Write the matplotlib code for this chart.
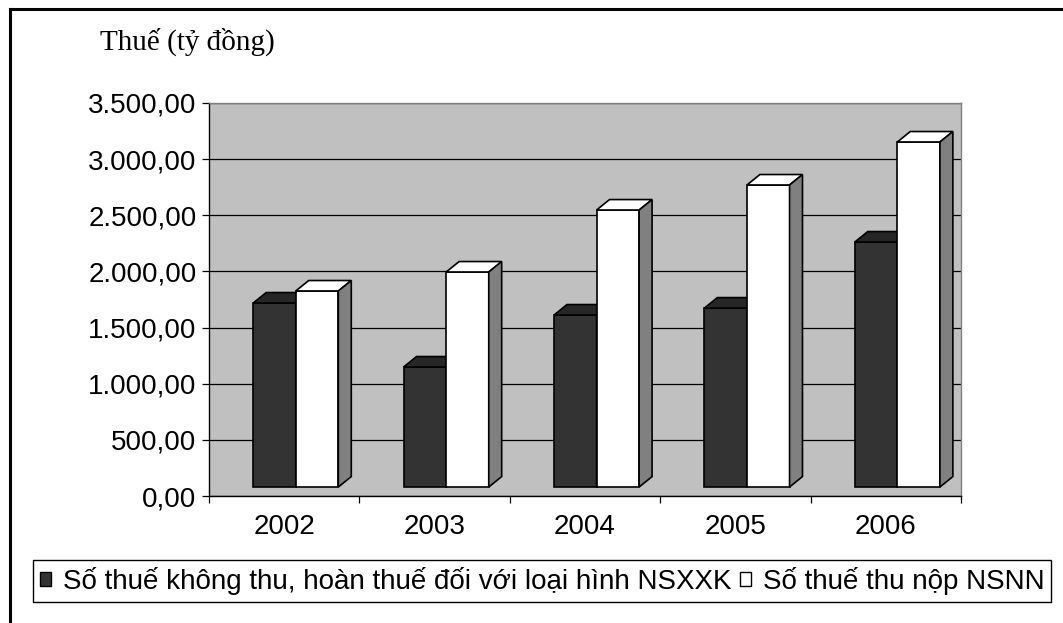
import matplotlib.pyplot as plt
from matplotlib.patches import Polygon, Patch
from matplotlib.lines import Line2D

years = ['2002', '2003', '2004', '2005', '2006']
khong_thu = [1719, 1149, 1612, 1674, 2262]   # So thue khong thu, hoan thue NSXXK
thu_nop = [1826, 1995, 2547, 2770, 3153]     # So thue thu nop NSNN
y_ticks = [0, 500, 1000, 1500, 2000, 2500, 3000, 3500]
labels = ['Số thuế không thu, hoàn thuế đối với loại hình NSXXK',
          'Số thuế thu nộp NSNN']

plt.rcParams['font.family'] = ['Liberation Sans', 'DejaVu Sans']

W, H = 1063, 623
fig = plt.figure(figsize=(W / 100, H / 100), dpi=100)
ax = fig.add_axes([209 / W, 1 - 496 / H, 752 / W, 393 / H])
ax.set_facecolor('#c0c0c0')
ax.set_xlim(-0.5, 4.5)
ax.set_ylim(0, 3500)

# fake 3d look (excel style)
w = 0.283
dx = 0.086
dy = 93
floor = 80


def faces(x0, v, top, side, z):
    x1 = x0 + w
    ax.add_patch(Polygon([(x0, v), (x1, v), (x1 + dx, v + dy), (x0 + dx, v + dy)],
                         closed=True, fc=top, ec='black', lw=1.2, zorder=z))
    ax.add_patch(Polygon([(x1, floor), (x1 + dx, floor + dy), (x1 + dx, v + dy), (x1, v)],
                         closed=True, fc=side, ec='black', lw=1.2, zorder=z))


xs = list(range(len(years)))
x_dark = [x - 0.206 for x in xs]
x_white = [x + 0.077 for x in xs]

ax.bar(x_dark, [v - floor for v in khong_thu], width=w, bottom=floor, align='edge',
       color='#333333', edgecolor='black', linewidth=1.2, zorder=2)
for x0, v in zip(x_dark, khong_thu):
    faces(x0, v, '#262626', '#1a1a1a', 2.1)
ax.bar(x_white, [v - floor for v in thu_nop], width=w, bottom=floor, align='edge',
       color='white', edgecolor='black', linewidth=1.2, zorder=2.2)
for x0, v in zip(x_white, thu_nop):
    faces(x0, v, 'white', '#808080', 2.3)

ax.set_axisbelow(True)
ax.yaxis.grid(True, color='black', linewidth=0.9)

ax.set_yticks(y_ticks)
ax.set_yticklabels([f'{v:,.2f}'.replace(',', 'X').replace('.', ',').replace('X', '.') for v in y_ticks])
ax.set_xticks([x - 0.5 for x in xs] + [4.5])
ax.set_xticklabels([])
ax.set_xticks(xs, minor=True)
ax.set_xticklabels(years, minor=True)
ax.tick_params(axis='y', direction='out', length=5, width=0.9, pad=4, labelsize=20)
ax.tick_params(axis='x', which='major', direction='out', length=5, width=0.9)
ax.tick_params(axis='x', which='minor', length=0, pad=13, labelsize=20)

for s in ['left', 'bottom']:
    ax.spines[s].set_color('black')
    ax.spines[s].set_linewidth(1.0)
for s in ['top', 'right']:
    ax.spines[s].set_color('#808080')
    ax.spines[s].set_linewidth(1.0)

fig.text(100 / W, 1 - 42 / H, 'Thuế (tỷ đồng)', family=['Liberation Serif', 'DejaVu Serif'],
         fontsize=21, ha='left', va='center')

# outer frame (left and top visible)
fig.add_artist(Line2D([10 / W, 10 / W], [0, 1 - 9 / H], transform=fig.transFigure,
                      color='black', linewidth=2.2))
fig.add_artist(Line2D([10 / W, 1], [1 - 9 / H, 1 - 9 / H], transform=fig.transFigure,
                      color='black', linewidth=2.2))

handles = [Patch(facecolor='#333333', edgecolor='black', linewidth=1),
           Patch(facecolor='white', edgecolor='black', linewidth=1)]
leg = fig.legend(handles, labels, loc='center left', bbox_to_anchor=(33 / W, 1 - 581 / H),
                 borderaxespad=0, ncol=2, fontsize=20, frameon=True, fancybox=False,
                 edgecolor='black', framealpha=1, handlelength=0.4, handleheight=0.43,
                 handletextpad=0.42, columnspacing=0.32, borderpad=0.25)
leg.get_frame().set_linewidth(1.0)

fig.savefig('out.png', dpi=100)
